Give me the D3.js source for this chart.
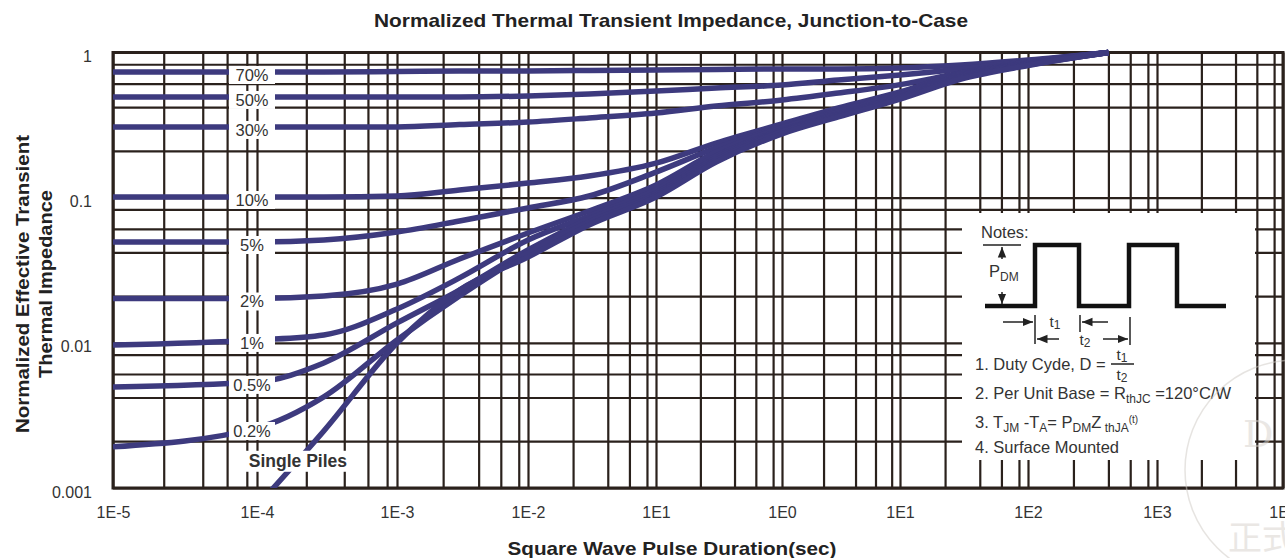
<!DOCTYPE html>
<html>
<head>
<meta charset="utf-8">
<script src="https://cdn.jsdelivr.net/npm/d3@7"></script>
<style>
  body { margin: 0; background: #fff; }
  svg { display: block; font-family: "Liberation Sans", Arial, sans-serif; }
</style>
</head>
<body>
<svg id="chart" width="1285" height="558"></svg>
<script>
// pulse durations (sec), shared by every curve
const pulseTimes = [1e-5, 1e-4, 3e-4, 1e-3, 3e-3, 1e-2, 3e-2, 0.1, 0.3, 1, 3, 10, 30, 100, 420];

// normalized Zth for each duty cycle
const duty70 = [0.734, 0.734, 0.734, 0.740, 0.746, 0.746, 0.752, 0.758, 0.764, 0.770, 0.770, 0.782, 0.820, 0.888, 1.0];
const duty50 = [0.494, 0.494, 0.494, 0.494, 0.494, 0.502, 0.518, 0.543, 0.569, 0.597, 0.647, 0.700, 0.770, 0.874, 1.0];
const duty30 = [0.307, 0.307, 0.307, 0.307, 0.319, 0.332, 0.354, 0.383, 0.428, 0.471, 0.526, 0.601, 0.722, 0.853, 1.0];
const duty10 = [0.1011, 0.1011, 0.1011, 0.1027, 0.113, 0.126, 0.141, 0.173, 0.238, 0.322, 0.415, 0.535, 0.722, 0.860, 1.0];
const duty5 = [0.0495, 0.0495, 0.0511, 0.0580, 0.0691, 0.0849, 0.1027, 0.150, 0.220, 0.307, 0.396, 0.518, 0.711, 0.847, 1.0];
const duty2 = [0.0202, 0.0202, 0.0210, 0.0254, 0.0378, 0.0571, 0.0810, 0.1224, 0.206, 0.302, 0.389, 0.510, 0.700, 0.840, 1.0];
const duty1 = [0.00967, 0.01047, 0.01133, 0.01712, 0.0280, 0.0511, 0.0748, 0.1130, 0.194, 0.293, 0.377, 0.502, 0.689, 0.833, 1.0];
const duty05 = [0.00497, 0.00538, 0.00727, 0.01372, 0.0231, 0.0436, 0.0713, 0.1077, 0.188, 0.288, 0.371, 0.494, 0.678, 0.827, 1.0];
const duty02 = [0.00192, 0.00259, 0.00424, 0.01047, 0.0210, 0.0416, 0.0680, 0.1044, 0.182, 0.284, 0.365, 0.486, 0.667, 0.820, 1.0];
const singlePulse = [null, 0.00075, 0.00247, 0.00998, 0.0231, 0.0390, 0.0649, 0.1011, 0.176, 0.275, 0.360, 0.478, 0.657, 0.814, 1.0];

const seriesValues = [duty70, duty50, duty30, duty10, duty5, duty2, duty1, duty05, duty02, singlePulse];
const seriesNames = ["70%", "50%", "30%", "10%", "5%", "2%", "1%", "0.5%", "0.2%", "Single Piles"];

// axis ticks (the 1E-1 tick is printed as "1E1" on the original)
const xTickValues = [1e-5, 1e-4, 1e-3, 1e-2, 1e-1, 1, 10, 100, 1000, 10000];
const xTickLabels = ["1E-5", "1E-4", "1E-3", "1E-2", "1E1", "1E0", "1E1", "1E2", "1E3", "1E4"];
const yTickValues = [1, 0.1, 0.01, 0.001];
const yTickLabels = ["1", "0.1", "0.01", "0.001"];

// minor grid multipliers inside each decade (as drawn, not a regular log grid)
const xMinor = [2.25, 4.2, 6.2, 8.5];
const yMinor = [2.1, 4.2, 6.1, 8.3];

const svg = d3.select("#chart");
const plotLeft = 113, plotRight = 1283, plotTop = 52.5, plotBottom = 488;
const curveColor = "#3d3a7e";
const gridColor = "#2a211c";
const textColor = "#333";

// the decades of the original are not evenly spaced, so the x scale is piecewise
let xScale = d3.scaleLog()
  .domain(xTickValues)
  .range([113, 257, 397, 528, 656, 782, 900, 1028, 1157, 1283]);
let yScale = d3.scaleLog()
  .domain([0.001, 1])
  .range([plotBottom, plotTop]);

// grid
let xGrid = [];
for (let i = 0; i < xTickValues.length; i++) {
  xGrid.push(xTickValues[i]);
  if (i < xTickValues.length - 1) xMinor.forEach(m => xGrid.push(xTickValues[i] * m));
}
let yGrid = [];
for (let i = 0; i < yTickValues.length; i++) {
  yGrid.push(yTickValues[i]);
  if (i < yTickValues.length - 1) yMinor.forEach(m => yGrid.push(yTickValues[i + 1] * m));
}

svg.append("g")
  .attr("transform", "translate(0," + plotBottom + ")")
  .call(d3.axisBottom(xScale).tickValues(xGrid).tickSize(-(plotBottom - plotTop)).tickFormat(""))
  .call(g => g.select(".domain").remove())
  .selectAll("line")
  .attr("stroke", gridColor)
  .attr("stroke-width", 2.2);

svg.append("g")
  .attr("transform", "translate(" + plotLeft + ",0)")
  .call(d3.axisLeft(yScale).tickValues(yGrid).tickSize(-(plotRight - plotLeft)).tickFormat(""))
  .call(g => g.select(".domain").remove())
  .selectAll("line")
  .attr("stroke", gridColor)
  .attr("stroke-width", 2.2);

// frame
svg.append("rect")
  .attr("x", plotLeft).attr("y", plotTop)
  .attr("width", plotRight - plotLeft).attr("height", plotBottom - plotTop)
  .attr("fill", "none")
  .attr("stroke", gridColor)
  .attr("stroke-width", 3);

// curves
svg.append("clipPath").attr("id", "plotClip")
  .append("rect")
  .attr("x", plotLeft).attr("y", plotTop - 8)
  .attr("width", plotRight - plotLeft).attr("height", plotBottom - plotTop + 8);

let lineGen = d3.line()
  .defined(d => d.z != null)
  .x(d => xScale(d.t))
  .y(d => yScale(d.z))
  .curve(d3.curveMonotoneX);

let curveData = seriesValues.map((vals, k) => ({
  name: seriesNames[k],
  points: pulseTimes.map((t, i) => ({ t: t, z: vals[i] }))
}));

svg.append("g")
  .attr("clip-path", "url(#plotClip)")
  .selectAll("path")
  .data(curveData)
  .join("path")
  .attr("d", d => lineGen(d.points))
  .attr("fill", "none")
  .attr("stroke", curveColor)
  .attr("stroke-width", 5.5);

// curve labels on white boxes near 1E-4
let labelG = svg.append("g");
curveData.slice(0, 9).forEach(d => {
  let cy = yScale(d.points[1].z) + 3;
  let cx = xScale(1e-4) - 5;
  labelG.append("rect")
    .attr("x", cx - 23).attr("y", cy - 9)
    .attr("width", 46).attr("height", 18)
    .attr("fill", "#fff");
  labelG.append("text")
    .attr("x", cx).attr("y", cy)
    .attr("dy", "0.36em")
    .attr("text-anchor", "middle")
    .attr("font-size", 16.5)
    .attr("fill", textColor)
    .text(d.name);
});
// single pulse label sits below its curve
const singleLabelAt = [1.96e-4, 0.00154];
labelG.append("rect")
  .attr("x", xScale(singleLabelAt[0]) - 54).attr("y", yScale(singleLabelAt[1]) - 10)
  .attr("width", 108).attr("height", 21)
  .attr("fill", "#fff");
labelG.append("text")
  .attr("x", xScale(singleLabelAt[0])).attr("y", yScale(singleLabelAt[1]))
  .attr("dy", "0.36em")
  .attr("text-anchor", "middle")
  .attr("font-size", 17.5)
  .attr("font-weight", "bold")
  .attr("fill", textColor)
  .text(seriesNames[9]);

// axis labels
svg.append("g")
  .attr("transform", "translate(0," + plotBottom + ")")
  .call(d3.axisBottom(xScale).tickValues(xTickValues).tickFormat((d, i) => xTickLabels[i]).tickSize(0).tickPadding(19))
  .call(g => g.select(".domain").remove())
  .selectAll("text")
  .attr("font-size", 16)
  .attr("font-family", "Liberation Sans, Arial, sans-serif")
  .attr("fill", textColor);

svg.append("g")
  .attr("transform", "translate(95,4)")
  .call(d3.axisLeft(yScale).tickValues(yTickValues).tickFormat((d, i) => yTickLabels[i]).tickSize(0).tickPadding(3))
  .call(g => g.select(".domain").remove())
  .selectAll("text")
  .attr("font-size", 16)
  .attr("font-family", "Liberation Sans, Arial, sans-serif")
  .attr("fill", textColor);

// titles (the original lettering is a little wider than Arial, hence textLength)
svg.append("text")
  .attr("x", 671).attr("y", 27)
  .attr("text-anchor", "middle")
  .attr("font-size", 19)
  .attr("font-weight", "bold")
  .attr("fill", "#222")
  .attr("textLength", 594)
  .attr("lengthAdjust", "spacingAndGlyphs")
  .text("Normalized Thermal Transient Impedance, Junction-to-Case");

svg.append("text")
  .attr("x", 672).attr("y", 555)
  .attr("text-anchor", "middle")
  .attr("font-size", 19)
  .attr("font-weight", "bold")
  .attr("fill", "#222")
  .attr("textLength", 329)
  .attr("lengthAdjust", "spacingAndGlyphs")
  .text("Square Wave Pulse Duration(sec)");

let yTitle = svg.append("text")
  .attr("transform", "translate(0,284) rotate(-90)")
  .attr("text-anchor", "middle")
  .attr("font-size", 19)
  .attr("font-weight", "bold")
  .attr("fill", "#222");
yTitle.append("tspan").attr("x", 0).attr("y", 29)
  .attr("textLength", 298).attr("lengthAdjust", "spacingAndGlyphs")
  .text("Normalized Effective Transient");
yTitle.append("tspan").attr("x", 0).attr("y", 52)
  .attr("textLength", 188).attr("lengthAdjust", "spacingAndGlyphs")
  .text("Thermal Impedance");

// notes inset
let notes = svg.append("g");
notes.append("rect")
  .attr("x", 962).attr("y", 213)
  .attr("width", 293).attr("height", 247)
  .attr("fill", "#fff");

let defs = svg.append("defs");
defs.append("marker")
  .attr("id", "arrow")
  .attr("viewBox", "0 0 10 10")
  .attr("refX", 10).attr("refY", 5)
  .attr("markerWidth", 7).attr("markerHeight", 7)
  .attr("orient", "auto")
  .append("path")
  .attr("d", "M0,1L10,5L0,9Z")
  .attr("fill", "#222");

notes.append("text")
  .attr("x", 981).attr("y", 238)
  .attr("font-size", 16.5).attr("fill", textColor)
  .text("Notes:");

// pulse train
notes.append("path")
  .attr("d", "M985,306H1035V245H1079V306H1129V245H1177V306H1226")
  .attr("fill", "none")
  .attr("stroke", "#111")
  .attr("stroke-width", 4.5);

let thin = (x1, y1, x2, y2, arrow) => {
  let l = notes.append("line")
    .attr("x1", x1).attr("y1", y1).attr("x2", x2).attr("y2", y2)
    .attr("stroke", "#222").attr("stroke-width", 1.5);
  if (arrow) l.attr("marker-end", "url(#arrow)");
};
thin(983, 245, 1021, 245);
thin(1002, 259, 1002, 247, true);
thin(1002, 292, 1002, 304, true);
thin(1003, 322, 1033, 322, true);
thin(1035, 315, 1035, 344);
thin(1108, 322, 1082, 322, true);
thin(1080, 315, 1080, 332);
thin(1059, 339, 1037, 339, true);
thin(1103, 339, 1128, 339, true);
thin(1130, 317, 1130, 345);

// "t" with a small index
let tSub = (x, y, idx, size) => {
  let t = notes.append("text").attr("x", x).attr("y", y)
    .attr("text-anchor", "middle").attr("font-size", size).attr("fill", textColor);
  t.append("tspan").text("t");
  t.append("tspan").attr("font-size", size * 0.8).attr("dy", 2).text(idx);
};

let pdm = notes.append("text").attr("x", 989).attr("y", 277).attr("font-size", 16.5).attr("fill", textColor);
pdm.append("tspan").text("P");
pdm.append("tspan").attr("font-size", 12).attr("dy", 4).text("DM");

tSub(1055, 327, "1", 15);
tSub(1085, 345, "2", 15);

notes.append("text").attr("x", 975).attr("y", 370).attr("font-size", 16.5).attr("fill", textColor)
  .text("1. Duty Cyde, D =");
tSub(1122, 360, "1", 15);
thin(1111, 364, 1134, 364);
tSub(1122, 380, "2", 15);

let l2 = notes.append("text").attr("x", 975).attr("y", 399).attr("font-size", 16.5).attr("fill", textColor);
l2.append("tspan").text("2. Per Unit Base = R");
l2.append("tspan").attr("font-size", 12).attr("dy", 4).text("thJC");
l2.append("tspan").attr("dy", -4).text(" =120\u00B0C/W");

let l3 = notes.append("text").attr("x", 975).attr("y", 428).attr("font-size", 16.5).attr("fill", textColor);
l3.append("tspan").text("3. T");
l3.append("tspan").attr("font-size", 12).attr("dy", 4).text("JM");
l3.append("tspan").attr("dy", -4).text(" -T");
l3.append("tspan").attr("font-size", 12).attr("dy", 4).text("A");
l3.append("tspan").attr("dy", -4).text("= P");
l3.append("tspan").attr("font-size", 12).attr("dy", 4).text("DM");
l3.append("tspan").attr("dy", -4).text("Z");
l3.append("tspan").attr("font-size", 12).attr("dy", 4).text(" thJA");
l3.append("tspan").attr("font-size", 10).attr("dy", -9).text("(t)");

notes.append("text").attr("x", 975).attr("y", 453).attr("font-size", 16.5).attr("fill", textColor)
  .text("4. Surface Mounted");

// faint watermark
let wm = svg.append("g").attr("opacity", 0.5);
wm.append("circle")
  .attr("cx", 1295).attr("cy", 470).attr("r", 110)
  .attr("fill", "none").attr("stroke", "#cfcac4").attr("stroke-width", 1.5);
wm.append("text")
  .attr("x", 1243).attr("y", 447)
  .attr("font-family", "DejaVu Serif, serif")
  .attr("font-size", 38).attr("fill", "#d6d1cb")
  .text("D");
wm.append("text")
  .attr("x", 1228).attr("y", 550)
  .attr("font-family", "Noto Sans CJK SC, sans-serif")
  .attr("font-size", 34).attr("fill", "#d6d1cb")
  .text("正式");
</script>
</body>
</html>
